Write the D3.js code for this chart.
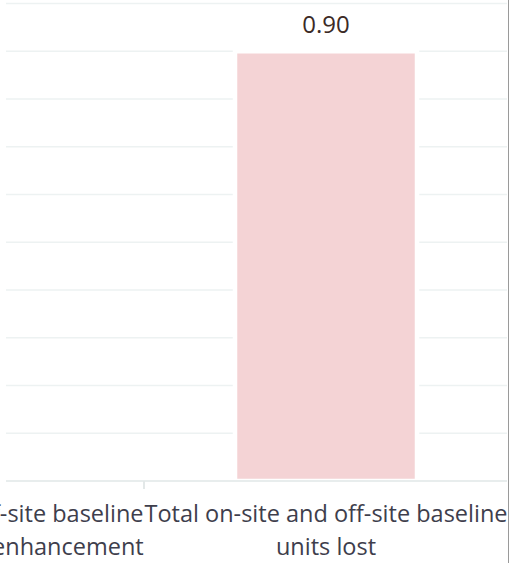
<!DOCTYPE html>
<html>
<head>
<meta charset="utf-8">
<script src="https://cdn.jsdelivr.net/npm/d3@7"></script>
<style>
  html, body { margin: 0; padding: 0; background: #fff; }
  svg { display: block; }
</style>
</head>
<body>
<div id="main"></div>
<script>
// data
var categories = [
    "Total on-site and off-site baseline units retained with enhancement",
    "Total on-site and off-site baseline units lost"
];
var values = [0, 0.90];
var yTicks = [0, 0.1, 0.2, 0.3, 0.4, 0.5, 0.6, 0.7, 0.8, 0.9, 1.0];

var width = 510;
var height = 563;

var svg = d3.select("#main")
    .append("svg")
    .attr("width", width)
    .attr("height", height);

// plot area runs off the left edge of the picture
var x = d3.scaleBand()
    .domain(categories)
    .range([-220, 508])
    .paddingInner(0.5)
    .paddingOuter(0.25);

var y = d3.scaleLinear()
    .domain([0, 1])
    .range([481, 3.5]);

// gridlines
svg.append("g")
    .selectAll("line")
    .data(yTicks.slice(1))
    .enter()
    .append("line")
    .attr("x1", 6)
    .attr("x2", 507)
    .attr("y1", function(d) { return y(d); })
    .attr("y2", function(d) { return y(d); })
    .style("stroke", "#edf2f2")
    .style("stroke-width", 1.6);

var bars = categories.map(function(c, i) { return {name: c, value: values[i]}; })
    .filter(function(d) { return d.value > 0; });

// bars with a white border that breaks the gridlines
svg.append("g")
    .selectAll("rect")
    .data(bars)
    .enter()
    .append("rect")
    .attr("x", function(d) { return x(d.name); })
    .attr("width", x.bandwidth())
    .attr("y", function(d) { return y(d.value); })
    .attr("height", function(d) { return y(0) - y(d.value); })
    .style("fill", "#f4d3d5")
    .style("stroke", "#fff")
    .style("stroke-width", 4.5);

// value labels
svg.append("g")
    .selectAll("text")
    .data(bars)
    .enter()
    .append("text")
    .attr("x", function(d) { return x(d.name) + x.bandwidth() / 2; })
    .attr("y", function(d) { return y(d.value) - 18.5; })
    .attr("text-anchor", "middle")
    .style("font-family", "'Open Sans', sans-serif")
    .style("font-size", "24px")
    .style("fill", "#3b2a26")
    .text(function(d) { return d3.format(".2f")(d.value); });

// category axis
svg.append("line")
    .attr("x1", 6)
    .attr("x2", 507)
    .attr("y1", y(0))
    .attr("y2", y(0))
    .style("stroke", "#e8eded")
    .style("stroke-width", 2);

var step = x.step();
svg.append("g")
    .selectAll("line")
    .data(categories.slice(1))
    .enter()
    .append("line")
    .attr("x1", function(d) { return x(d) - (step - x.bandwidth()) / 2; })
    .attr("x2", function(d) { return x(d) - (step - x.bandwidth()) / 2; })
    .attr("y1", y(0))
    .attr("y2", y(0) + 8)
    .style("stroke", "#e3e8e8")
    .style("stroke-width", 2);

var labels = svg.append("g")
    .selectAll("text")
    .data(categories)
    .enter()
    .append("text")
    .attr("x", function(d) { return x(d) + x.bandwidth() / 2; })
    .attr("y", 522)
    .attr("text-anchor", "middle")
    .style("font-family", "'Open Sans', sans-serif")
    .style("font-size", "23.5px")
    .style("fill", "#3e3e4c");

// labels may fill the whole category slot, as in the original
labels.each(function(d) {
    wrap(d3.select(this), d, step + 8);
});

function wrap(text, str, w) {
    var words = str.split(/\s+/);
    var line = [];
    var cx = text.attr("x");
    var tspan = text.append("tspan").attr("x", cx).attr("dy", 0);
    words.forEach(function(word) {
        line.push(word);
        tspan.text(line.join(" "));
        if (tspan.node().getComputedTextLength() > w && line.length > 1) {
            line.pop();
            tspan.text(line.join(" "));
            line = [word];
            tspan = text.append("tspan").attr("x", cx).attr("dy", "33px").text(word);
        }
    });
}

// frame edge on the right
svg.append("line")
    .attr("x1", 508.5)
    .attr("x2", 508.5)
    .attr("y1", 0)
    .attr("y2", height)
    .style("stroke", "#9a9a9a")
    .style("stroke-width", 1);
</script>
</body>
</html>
